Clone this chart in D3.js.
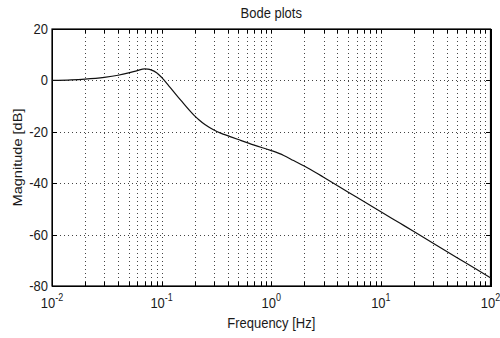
<!DOCTYPE html>
<html>
<head>
<meta charset="utf-8">
<script src="https://cdn.jsdelivr.net/npm/d3@7"></script>
<style>
  html, body { margin: 0; padding: 0; background: #fff; }
  svg text { font-family: "Liberation Sans", Arial, sans-serif; fill: #1a1a1a; }
</style>
</head>
<body>
<svg id="chart" width="500" height="338"></svg>
<script>
// Magnitude response of the system (frequency in Hz, magnitude in dB)
const freqHz = [0.01, 0.015, 0.02, 0.03, 0.04, 0.05, 0.06, 0.07, 0.075, 0.08, 0.09, 0.1,
                0.12, 0.15, 0.2, 0.22, 0.25, 0.3, 0.35, 0.4, 0.5, 0.7, 1, 1.3, 1.6, 2, 3, 5, 7,
                10, 15, 20, 30, 50, 70, 100];
const magnitudeDb = [0, 0.2, 0.5, 1.2, 2.0, 2.9, 3.8, 4.5, 4.4, 4.1, 3.0, 1.2,
                     -2.8, -7.8, -13.8, -15.4, -17.3, -19.3, -20.6, -21.5, -23.0, -25.2, -27.3, -29.2, -31.2, -33.3, -37.7, -43.4, -47.1,
                     -51.1, -55.6, -58.8, -63.4, -69.1, -72.8, -76.8];

const xDomain = [0.01, 100];
const yDomain = [-80, 20];
const yTicks = [20, 0, -20, -40, -60, -80];
const xDecadeExponents = [-2, -1, 0, 1, 2];

const titleText = "Bode plots";
const xLabelText = "Frequency [Hz]";
const yLabelText = "Magnitude [dB]";

const svg = d3.select("#chart");
const margin = { left: 52, right: 9.5, top: 29, bottom: 52 };
const W = 500, H = 338;
const x = d3.scaleLog().domain(xDomain).range([margin.left, W - margin.right]);
const y = d3.scaleLinear().domain(yDomain).range([H - margin.bottom, margin.top]);

const x0 = x.range()[0], x1 = x.range()[1];
const y0 = y.range()[1], y1 = y.range()[0];

// all log ticks: majors and 2..9 minors in every decade
const logTicks = [];
for (let e = -2; e < 2; e++) {
  for (let m = 1; m <= 9; m++) logTicks.push(m * Math.pow(10, e));
}
logTicks.push(100);

// dotted grid
const grid = svg.append("g")
  .attr("stroke", "#444")
  .attr("stroke-width", 1)
  .attr("stroke-dasharray", "1,3")
  .attr("shape-rendering", "crispEdges");
grid.selectAll("line.v").data(logTicks.filter(d => d > xDomain[0] && d < xDomain[1]))
  .join("line").attr("class", "v")
  .attr("x1", d => Math.round(x(d)) + 0.5).attr("x2", d => Math.round(x(d)) + 0.5)
  .attr("y1", y0).attr("y2", y1);
grid.selectAll("line.h").data(yTicks.filter(d => d > yDomain[0] && d < yDomain[1]))
  .join("line").attr("class", "h")
  .attr("y1", d => Math.round(y(d)) + 0.5).attr("y2", d => Math.round(y(d)) + 0.5)
  .attr("x1", x0).attr("x2", x1);

// axes with inward ticks on all four sides
const tickLen = 4;
const axisG = svg.append("g").attr("shape-rendering", "crispEdges");
axisG.append("g").attr("transform", `translate(0,${y1})`)
  .call(d3.axisBottom(x).tickValues(logTicks).tickSizeInner(-tickLen).tickSizeOuter(0).tickFormat(""));
axisG.append("g").attr("transform", `translate(0,${y0})`)
  .call(d3.axisTop(x).tickValues(logTicks).tickSizeInner(-tickLen).tickSizeOuter(0).tickFormat(""));
axisG.append("g").attr("transform", `translate(${x0},0)`)
  .call(d3.axisLeft(y).tickValues(yTicks).tickSizeInner(-5).tickSizeOuter(0).tickFormat(""));
axisG.append("g").attr("transform", `translate(${x1},0)`)
  .call(d3.axisRight(y).tickValues(yTicks).tickSizeInner(-5).tickSizeOuter(0).tickFormat(""));
axisG.selectAll(".domain").attr("stroke", "#000");
axisG.selectAll(".tick line").attr("stroke", "#000");

// frame
svg.append("rect")
  .attr("x", x0).attr("y", y0).attr("width", x1 - x0).attr("height", y1 - y0)
  .attr("fill", "none").attr("stroke", "#000").attr("stroke-width", 1.2);

// y tick labels
svg.append("g").selectAll("text").data(yTicks).join("text")
  .attr("text-anchor", "end")
  .attr("font-size", 13)
  .attr("transform", d => `translate(${x0 - 4},${y(d) + 5}) scale(1,1.12)`)
  .text(d => d);

// x tick labels: 10 with superscript exponent
const xl = svg.append("g").selectAll("text").data(xDecadeExponents).join("text")
  .attr("text-anchor", "middle")
  .attr("font-size", 13)
  .attr("transform", d => `translate(${x(Math.pow(10, d))},${y1 + 22}) scale(1,1.12)`);
xl.append("tspan").text("10");
xl.append("tspan").attr("dy", -6).attr("font-size", 9).text(d => d);

// curve
svg.append("path")
  .datum(freqHz.map((f, i) => [f, magnitudeDb[i]]))
  .attr("fill", "none")
  .attr("stroke", "#111")
  .attr("stroke-width", 1.2)
  .attr("d", d3.line().x(d => x(d[0])).y(d => y(d[1])).curve(d3.curveMonotoneX));

// title and axis labels
const cx = (x0 + x1) / 2;
svg.append("text").attr("text-anchor", "middle").attr("font-size", 13)
  .attr("transform", `translate(${cx},${y0 - 11}) scale(1,1.12)`).text(titleText);
svg.append("text").attr("text-anchor", "middle").attr("font-size", 13)
  .attr("transform", `translate(${cx},${y1 + 42}) scale(1,1.12)`).text(xLabelText);
svg.append("text").attr("text-anchor", "middle").attr("font-size", 13)
  .attr("transform", `translate(22,${(y0 + y1) / 2}) rotate(-90) scale(1.12,1)`).text(yLabelText);
</script>
</body>
</html>
